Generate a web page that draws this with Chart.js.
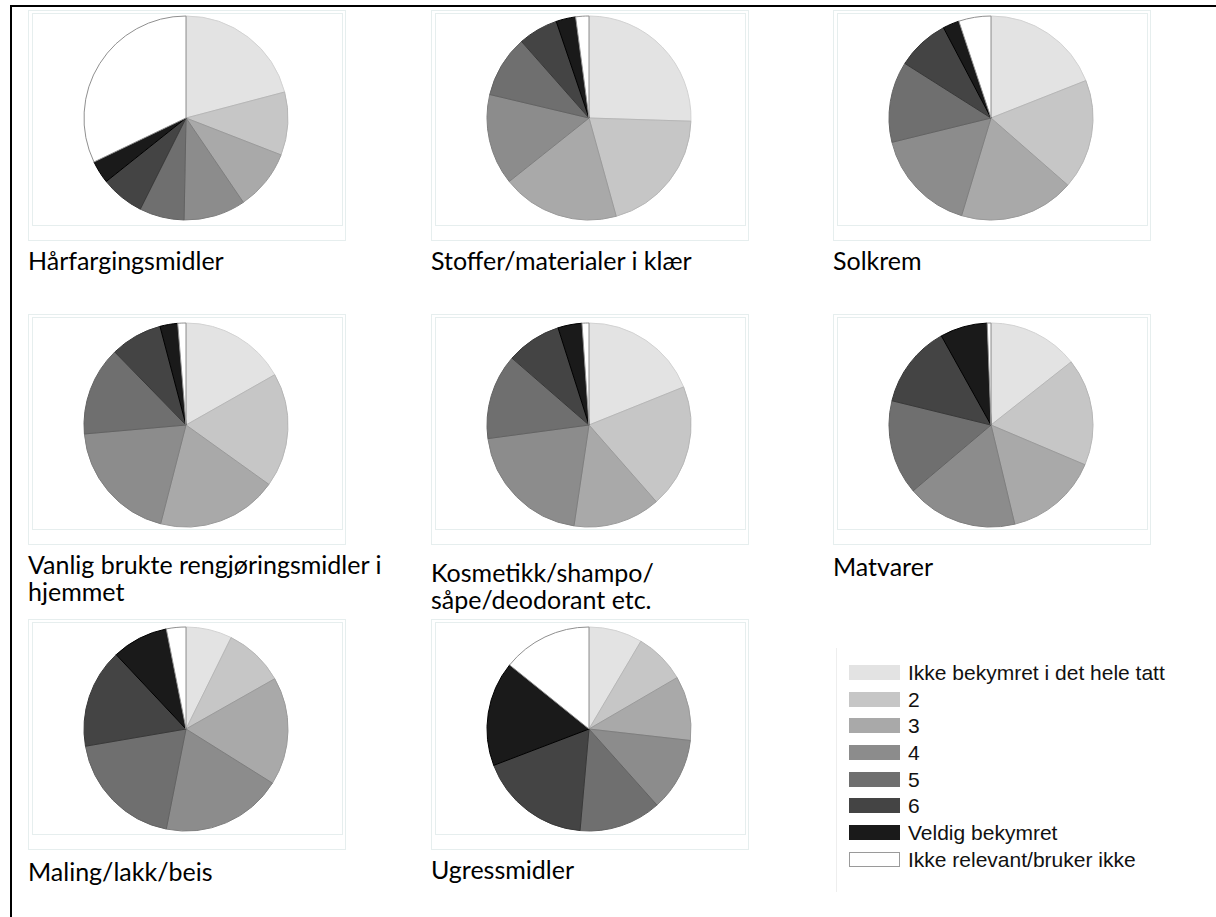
<!DOCTYPE html>
<html>
<head>
<meta charset="utf-8">
<script src="https://cdn.jsdelivr.net/npm/chart.js@4.4.1/dist/chart.umd.min.js"></script>
<style>
  body { margin: 0; background: #fff; width: 1216px; height: 917px; position: relative; overflow: hidden; }
  .frame { position: absolute; left: 10px; top: 5px; width: 1220px; height: 930px; border-top: 2px solid #000; border-left: 2px solid #000; }
  .cell { position: absolute; width: 318px; height: 231px; border: 1px solid #e6eeee; box-sizing: border-box; }
  .cell .inner { position: absolute; left: 3px; top: 2px; width: 311px; height: 213px; border: 1px solid #e6eeee; box-sizing: border-box; }
  .cell canvas { position: absolute; left: 2px; }
  .label { position: absolute; font-family: Lato, "Open Sans", sans-serif; font-size: 25px; line-height: 27px; color: #000; white-space: nowrap; }
  .legend { position: absolute; left: 836px; top: 648px; height: 244px; border-left: 1px solid #eeeeee; font-family: "Liberation Sans", Arial, sans-serif; font-size: 21px; color: #111; }
  .legend .row { position: absolute; left: 12px; height: 26px; white-space: nowrap; }
  .legend .sw { position: absolute; left: 0; top: 5px; width: 51px; height: 15px; box-sizing: border-box; }
  .legend .txt { position: absolute; left: 59px; top: 0; line-height: 26px; }
</style>
</head>
<body>
<div class="frame"></div>
<div id="grid"></div>
<div class="legend" id="legend"></div>
<script>
// answer scale, lightest = not worried, white = not relevant
const categories = ['Ikke bekymret i det hele tatt', '2', '3', '4', '5', '6', 'Veldig bekymret', 'Ikke relevant/bruker ikke'];
const sliceColors = ['#e3e3e3', '#c6c6c6', '#a9a9a9', '#8c8c8c', '#6f6f6f', '#444444', '#1a1a1a', '#ffffff'];
const sliceBorders = ['#d2d2d2', '#b6b6b6', '#9a9a9a', '#7e7e7e', '#626262', '#383838', '#000000', '#8f8f8f'];

// share of answers (%) per product group
const harfarging = [20.9, 10.0, 9.6, 9.8, 7.1, 6.9, 3.6, 32.1];
const stoffer = [25.5, 20.2, 18.6, 14.4, 9.8, 6.3, 3.1, 2.1];
const solkrem = [19.0, 17.4, 18.2, 16.5, 12.8, 8.3, 2.6, 5.1];
const rengjoring = [16.8, 18.1, 19.1, 19.6, 14.1, 8.2, 2.8, 1.3];
const kosmetikk = [18.9, 19.6, 13.8, 20.5, 13.5, 8.7, 3.8, 1.1];
const matvarer = [14.4, 17.0, 14.9, 17.6, 15.0, 13.1, 7.5, 0.6];
const maling = [7.3, 9.5, 17.1, 19.2, 19.2, 15.7, 8.9, 3.1];
const ugress = [8.5, 8.1, 10.2, 11.6, 13.0, 17.8, 16.6, 14.2];

const titles = [
  ['Hårfargingsmidler'],
  ['Stoffer/materialer i klær'],
  ['Solkrem'],
  ['Vanlig brukte rengjøringsmidler i', 'hjemmet'],
  ['Kosmetikk/shampo/', 'såpe/deodorant etc.'],
  ['Matvarer'],
  ['Maling/lakk/beis'],
  ['Ugressmidler']
];
const series = [harfarging, stoffer, solkrem, rengjoring, kosmetikk, matvarer, maling, ugress];

// grid placement
const colLeft = [28, 431, 833];
const rowTop = [10, 314, 619];
const canvasTop = [1, 4, 3];
const labelTop = [[247, 247, 247], [551, 559, 553], [858, 856, 856]];

const grid = document.getElementById('grid');

series.forEach((values, i) => {
  const col = i % 3;
  const row = Math.floor(i / 3);

  const cell = document.createElement('div');
  cell.className = 'cell';
  cell.style.left = colLeft[col] + 'px';
  cell.style.top = rowTop[row] + 'px';
  const inner = document.createElement('div');
  inner.className = 'inner';
  cell.appendChild(inner);
  const canvas = document.createElement('canvas');
  canvas.width = 310;
  canvas.height = 212;
  canvas.style.width = '310px';
  canvas.style.height = '212px';
  canvas.style.top = canvasTop[row] + 'px';
  cell.appendChild(canvas);
  grid.appendChild(cell);

  const label = document.createElement('div');
  label.className = 'label';
  label.style.left = colLeft[col] + 'px';
  label.style.top = labelTop[row][col] + 'px';
  label.innerHTML = titles[i].join('<br>');
  grid.appendChild(label);

  new Chart(canvas, {
    type: 'pie',
    data: {
      labels: categories,
      datasets: [{
        data: values,
        backgroundColor: sliceColors,
        borderColor: sliceBorders,
        borderWidth: 1
      }]
    },
    options: {
      responsive: false,
      animation: false,
      devicePixelRatio: 1,
      events: [],
      radius: 102,
      layout: { padding: 0 },
      plugins: {
        legend: { display: false },
        tooltip: { enabled: false }
      }
    }
  });
});

// shared legend
const legend = document.getElementById('legend');
categories.forEach((name, i) => {
  const row = document.createElement('div');
  row.className = 'row';
  row.style.top = (12 + i * 26.65) + 'px';
  const sw = document.createElement('div');
  sw.className = 'sw';
  sw.style.background = sliceColors[i];
  if (sliceColors[i] === '#ffffff') sw.style.border = '1px solid #9a9a9a';
  const txt = document.createElement('div');
  txt.className = 'txt';
  txt.textContent = name;
  row.appendChild(sw);
  row.appendChild(txt);
  legend.appendChild(row);
});
</script>
</body>
</html>
